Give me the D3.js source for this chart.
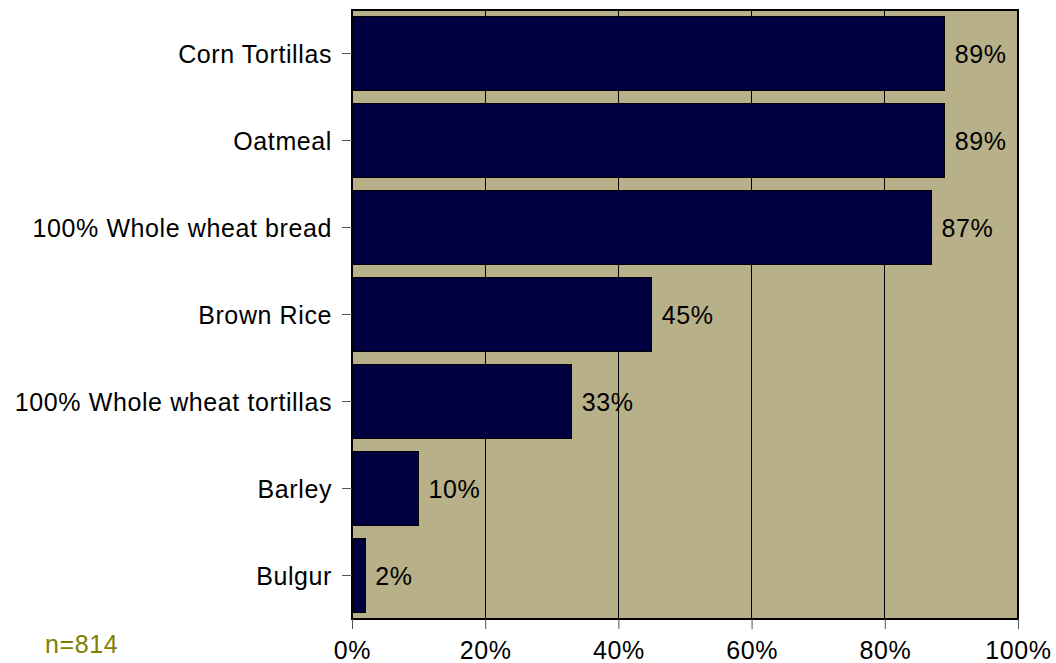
<!DOCTYPE html>
<html>
<head>
<meta charset="utf-8">
<script src="https://cdn.jsdelivr.net/npm/d3@7/dist/d3.min.js"></script>
<style>
  html, body { margin: 0; padding: 0; background: #fff; }
  svg { display: block; font-family: "Liberation Sans", Arial, sans-serif; }
  .lbl { font-size: 25px; letter-spacing: 0.6px; }
</style>
</head>
<body>
<svg id="chart" width="1056" height="663"></svg>
<script>
const categories = ["Corn Tortillas", "Oatmeal", "100% Whole wheat bread", "Brown Rice",
                    "100% Whole wheat tortillas", "Barley", "Bulgur"];
const values = [89, 89, 87, 45, 33, 10, 2];
const tickValues = [0, 20, 40, 60, 80, 100];
const sampleNote = "n=814";

const svg = d3.select("#chart");
const margin = { left: 352, right: 38, top: 10, bottom: 44 };
const W = 1056, H = 663;
const plotW = W - margin.left - margin.right;
const plotH = H - margin.top - margin.bottom;

const x = d3.scaleLinear().domain([0, 100]).range([0, plotW]);
const y = d3.scaleBand().domain(categories).range([0, plotH]).paddingInner(0.15).paddingOuter(0.075);

const g = svg.append("g").attr("transform", `translate(${margin.left},${margin.top})`);

// plot background
g.append("rect").attr("x", 0).attr("y", 0).attr("width", plotW).attr("height", plotH)
  .attr("fill", "#B8B088");

// vertical gridlines
g.selectAll("line.grid").data(tickValues.filter(d => d > 0 && d < 100)).enter()
  .append("line").attr("class", "grid")
  .attr("x1", d => x(d)).attr("x2", d => x(d)).attr("y1", 0).attr("y2", plotH)
  .attr("stroke", "#000").attr("stroke-width", 1).attr("shape-rendering", "crispEdges");

// bars
g.selectAll("rect.bar").data(values).enter()
  .append("rect").attr("class", "bar")
  .attr("x", 0).attr("y", (d, i) => y(categories[i]))
  .attr("width", d => x(d)).attr("height", y.bandwidth())
  .attr("fill", "#000040").attr("stroke", "#000").attr("stroke-width", 1)
  .attr("shape-rendering", "crispEdges");

// value labels
g.selectAll("text.val").data(values).enter()
  .append("text").attr("class", "val lbl")
  .attr("x", d => x(d) + 10).attr("y", (d, i) => y(categories[i]) + y.bandwidth() / 2)
  .attr("dy", "0.36em").attr("fill", "#000")
  .text(d => d + "%");

// plot frame
g.append("rect").attr("x", 0).attr("y", 0).attr("width", plotW).attr("height", plotH)
  .attr("fill", "none").attr("stroke", "#000").attr("stroke-width", 2);

// y axis
const yAxis = g.append("g").call(d3.axisLeft(y).tickSize(10).tickPadding(10));
yAxis.attr("font-size", null).attr("font-family", null);
yAxis.select(".domain").remove();
yAxis.selectAll(".tick line").attr("stroke", "#555");
yAxis.selectAll("text").attr("class", "lbl").attr("fill", "#000").attr("dy", "0.36em");

// x axis
const xAxis = g.append("g").attr("transform", `translate(0,${plotH})`)
  .call(d3.axisBottom(x).tickValues(tickValues).tickFormat(d => d + "%").tickSize(10).tickPadding(12));
xAxis.attr("font-size", null).attr("font-family", null);
xAxis.select(".domain").remove();
xAxis.selectAll(".tick line").attr("stroke", "#555");
xAxis.selectAll("text").attr("class", "lbl").attr("fill", "#000");

// sample size note
svg.append("text").attr("class", "lbl").attr("x", 45).attr("y", 653).attr("fill", "#808000")
  .text(sampleNote);
</script>
</body>
</html>
